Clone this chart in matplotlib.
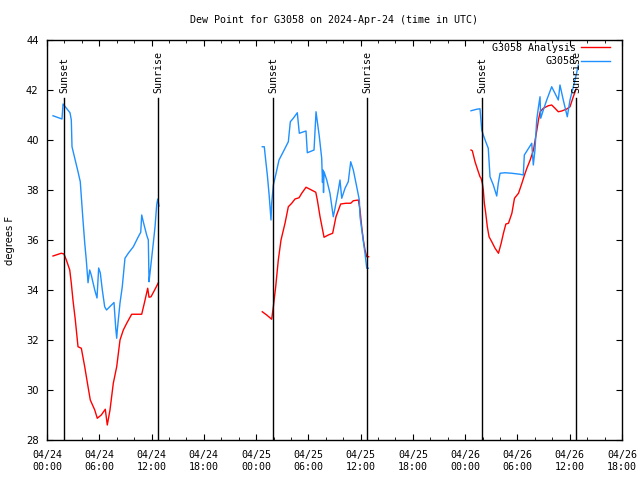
import numpy as np
import pandas as pd
import matplotlib
matplotlib.use("Agg")
from matplotlib import pyplot as plt
import matplotlib.dates as mdates

start = pd.Timestamp("2024-04-24 00:00")

# hours since 04/24 00:00 UTC, one list per night
obs_hours = [
    [0.69, 1.72, 1.84, 2.03, 2.64, 2.79, 2.87, 3.18, 3.56, 3.82, 3.94, 4.13, 4.33, 4.51,
     4.71, 4.90, 5.08, 5.48, 5.74, 5.93, 6.12, 6.35, 6.62, 6.83, 7.69, 7.89, 8.00, 8.07,
     8.38, 8.64, 8.95, 9.33, 9.91, 10.48, 10.76, 10.87, 11.05, 11.44, 11.63, 11.71, 11.82,
     12.20, 12.40, 12.59, 12.71, 12.86],
    [24.71, 24.94, 25.10, 25.29, 25.48, 25.60, 25.71, 25.79, 25.98, 26.25, 26.63, 27.12,
     27.70, 27.93, 28.27, 28.73, 28.96, 29.73, 29.88, 30.65, 30.88, 31.03, 31.26, 31.53,
     31.62, 31.68, 31.74, 31.80, 32.11, 32.48, 32.86, 33.06, 33.44, 33.63, 33.83, 34.21,
     34.58, 34.86, 35.16, 35.55, 35.85, 35.93, 36.24, 36.50, 36.70, 36.88],
    [48.67, 49.32, 49.70, 49.90, 50.08, 50.36, 50.65, 50.85, 51.23, 51.62, 51.80, 52.00,
     52.57, 53.34, 54.29, 54.67, 54.79, 55.64, 55.82, 56.01, 56.21, 56.39, 56.59, 56.67,
     56.97, 57.36, 57.93, 58.69, 58.88, 59.26, 59.72, 60.03, 60.61, 60.99],
]
obs_dewpt = [
    [40.97, 40.84, 41.44, 41.36, 41.09, 40.80, 39.73, 39.28, 38.73, 38.33, 37.73, 36.80,
     35.88, 35.20, 34.29, 34.80, 34.60, 34.00, 33.68, 34.88, 34.68, 34.00, 33.33, 33.20,
     33.50, 32.47, 32.07, 32.40, 33.48, 34.13, 35.27, 35.47, 35.73, 36.13, 36.31, 37.00,
     36.73, 36.20, 36.00, 34.33, 34.67, 35.87, 36.53, 37.40, 37.64, 37.36],
    [39.73, 39.73, 39.20, 38.60, 37.87, 37.33, 36.80, 37.47, 38.20, 38.60, 39.20, 39.53,
     39.93, 40.73, 40.87, 41.09, 40.27, 40.36, 39.49, 39.60, 41.13, 40.73, 40.13, 39.27,
     38.30, 38.80, 37.90, 38.73, 38.40, 37.87, 36.93, 37.27, 38.00, 38.40, 37.67, 38.07,
     38.33, 39.13, 38.80, 38.13, 37.60, 36.93, 36.13, 35.47, 34.87, 34.87],
    [41.17, 41.23, 41.25, 40.40, 40.20, 39.93, 39.67, 38.53, 38.20, 37.76, 38.27, 38.67,
     38.69, 38.67, 38.63, 38.60, 39.40, 39.87, 39.00, 39.60, 40.80, 41.27, 41.73, 40.87,
     41.20, 41.60, 42.13, 41.60, 42.20, 41.60, 40.93, 41.60, 42.40, 43.00],
]

ana_hours = [
    [0.69, 1.64, 1.95, 2.22, 2.61, 2.79, 2.98, 3.25, 3.56, 3.94, 4.33, 4.71, 4.97, 5.48,
     5.77, 6.23, 6.69, 6.92, 7.23, 7.61, 8.00, 8.38, 8.76, 9.15, 9.72, 10.87, 11.17, 11.56,
     11.71, 11.94, 12.40, 12.78],
    [24.71, 25.22, 25.79, 25.98, 26.25, 26.55, 26.86, 27.32, 27.70, 28.09, 28.47, 28.93,
     29.24, 29.73, 30.19, 30.85, 31.03, 31.34, 31.80, 32.29, 32.79, 33.17, 33.71, 34.32,
     34.86, 35.16, 35.74, 35.93, 36.12, 36.31, 36.50, 36.70, 36.92],
    [48.67, 48.82, 49.13, 49.44, 49.70, 49.82, 49.97, 50.08, 50.20, 50.36, 50.54, 50.74,
     51.05, 51.43, 51.82, 52.13, 52.39, 52.67, 52.97, 53.36, 53.66, 54.12, 54.51, 54.81,
     55.08, 55.46, 55.84, 56.03, 56.23, 56.41, 56.61, 56.97, 57.54, 57.93, 58.31, 58.69,
     59.08, 59.66, 60.03, 60.41, 60.72],
]
ana_dewpt = [
    [35.36, 35.47, 35.44, 35.20, 34.80, 34.27, 33.60, 32.80, 31.73, 31.67, 30.93, 30.13,
     29.60, 29.20, 28.87, 29.00, 29.23, 28.60, 29.20, 30.27, 30.93, 32.00, 32.40, 32.67,
     33.03, 33.03, 33.47, 34.07, 33.71, 33.73, 34.03, 34.29],
    [33.13, 33.00, 32.83, 33.33, 34.13, 35.20, 36.00, 36.67, 37.33, 37.47, 37.64, 37.69,
     37.87, 38.11, 38.03, 37.91, 37.60, 36.93, 36.11, 36.20, 36.27, 36.93, 37.44, 37.47,
     37.47, 37.57, 37.60, 37.20, 36.53, 36.00, 35.60, 35.33, 35.33],
    [39.60, 39.57, 39.13, 38.80, 38.53, 38.47, 38.27, 38.00, 37.47, 37.07, 36.53, 36.13,
     35.93, 35.67, 35.47, 35.87, 36.27, 36.64, 36.67, 37.07, 37.67, 37.87, 38.27, 38.60,
     38.87, 39.20, 39.60, 40.00, 40.40, 40.80, 41.13, 41.27, 41.37, 41.40, 41.27, 41.13,
     41.16, 41.24, 41.33, 41.73, 42.03],
]

sun_labels = ["Sunset", "Sunrise", "Sunset", "Sunrise", "Sunset", "Sunrise"]
sun_times = ["2024-04-24 01:57", "2024-04-24 12:44", "2024-04-25 01:56",
             "2024-04-25 12:44", "2024-04-26 01:56", "2024-04-26 12:43"]

mono = "DejaVu Sans Mono"
fs = 7.2

def to_time(hours):
    return start + pd.to_timedelta(np.array(hours), unit="h")

fig = plt.figure(figsize=(6.4, 4.8), dpi=100)
ax = fig.add_axes([47/640, 40/480, 575/640, 400/480])

for i in range(len(ana_hours)):
    ax.plot(to_time(ana_hours[i]), ana_dewpt[i], color="#ff0000", lw=1.0,
            label="G3058 Analysis" if i == 0 else None)
for i in range(len(obs_hours)):
    ax.plot(to_time(obs_hours[i]), obs_dewpt[i], color="#1e90ff", lw=1.0,
            label="G3058" if i == 0 else None)

for lab, t in zip(sun_labels, sun_times):
    t = pd.Timestamp(t)
    ax.plot([t, t], [28, 41.68], color="black", lw=1.0)
    ax.text(t, 41.9, lab, rotation=90, ha="center", va="bottom",
            family=mono, fontsize=fs)

ax.set_xlim(start, pd.Timestamp("2024-04-26 18:00"))
ax.set_ylim(28, 44)
ax.set_yticks(np.arange(28, 45, 2))
ax.xaxis.set_major_locator(mdates.HourLocator(byhour=[0, 6, 12, 18]))
ax.xaxis.set_minor_locator(mdates.HourLocator(byhour=range(0, 24, 2)))
ax.xaxis.set_major_formatter(mdates.DateFormatter("%m/%d\n%H:%M"))

ax.tick_params(axis="both", which="both", direction="in", top=True, right=True)
ax.tick_params(axis="x", which="major", length=4, pad=7, labelsize=fs)
ax.tick_params(axis="x", which="minor", length=2.5)
ax.tick_params(axis="y", which="major", length=4, pad=6, labelsize=fs)
for lbl in ax.get_xticklabels():
    lbl.set_family(mono)
    lbl.set_linespacing(1.3)
for sp in ax.spines.values():
    sp.set_linewidth(1.0)

ax.set_ylabel("degrees F", fontsize=fs, labelpad=8)
ax.set_title("Dew Point for G3058 on 2024-Apr-24 (time in UTC)",
             family=mono, fontsize=fs, pad=12.5)

leg = ax.legend(loc="upper right", bbox_to_anchor=((610 - 47) / 575, 1 - 3 / 400),
                frameon=False, markerfirst=False, borderpad=0, borderaxespad=0,
                handlelength=2.9, handletextpad=0.5, labelspacing=0.35,
                prop={"family": mono, "size": fs})

fig.savefig("out.png", dpi=100)
